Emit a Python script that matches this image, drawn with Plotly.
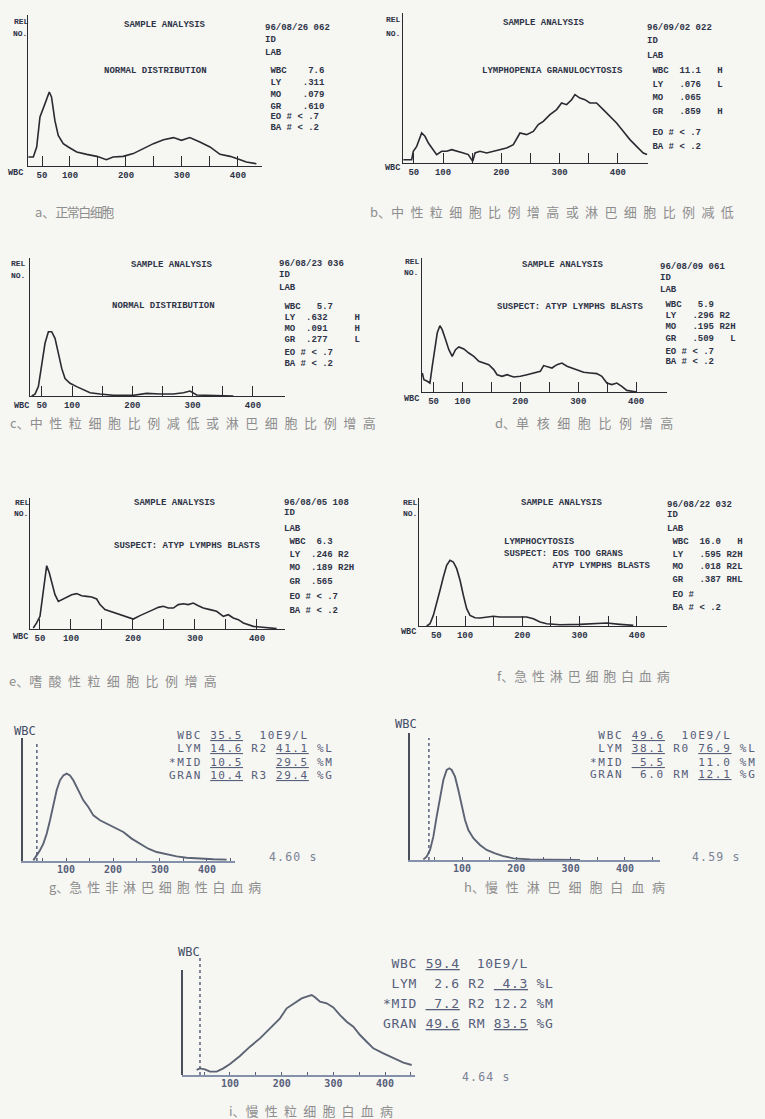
import plotly.graph_objects as go

W, H = 765, 1119

# ---------------- data: cell volume (fL) vs relative number ----------------
a_x = [25.6, 34.5, 40.5, 46.4, 55.4, 63.0, 67.0, 73.0, 79.0, 88.0, 97.0, 112, 130, 148, 165, 177, 195, 213,
       231, 249, 267, 285, 299, 314, 332, 350, 368, 386, 404, 415, 433]
a_y = [6.0, 6.0, 12.6, 32.5, 41.3, 49.0, 45.7, 30.2, 20.3, 14.8, 12.6, 9.3, 7.7, 6.4, 4.2, 6.0, 6.4, 8.2,
       11.5, 14.8, 17.4, 18.8, 17.0, 18.8, 15.9, 12.6, 7.7, 6.4, 4.2, 2.6, 1.5]

b_x = [32, 46.3, 49.1, 54.9, 63.4, 69.1, 74.9, 83.4, 89.1, 97.7, 106.3, 114.9, 126.3, 134.9, 143.4, 150.9,
       154.9, 163.4, 174.9, 186.3, 197.7, 209.1, 220.6, 232, 243.4, 254.9, 263.4, 272, 283.4, 294.9, 303.4,
       312, 320.6, 326.3, 334.9, 343.4, 352, 363.4, 374.9, 386.3, 397.7, 409.1, 420.6, 432, 443.4, 450]
b_y = [2.2, 2.2, 7.8, 11.1, 20, 17.8, 13.3, 8.9, 5.6, 7.8, 7.8, 8.9, 7.8, 6.7, 5.6, 1.1, 6.7, 7.8, 6.7, 7.8,
       8.9, 10, 12.2, 20, 18.9, 21.1, 25.6, 27.8, 32.2, 35.6, 40, 38.9, 42.2, 45.6, 43.3, 42.2, 40, 40, 35.6,
       31.1, 26.7, 21.1, 15.6, 11.1, 6.7, 5.6]

c_x = [33.1, 38.6, 44.2, 49.7, 55.2, 60.8, 66.3, 71.8, 77.3, 82.9, 88.4, 96.7, 107.7, 118.8, 129.9, 146.4,
       168.5, 201.7, 223.8, 245.9, 268, 284.6, 295.7, 306.7, 323.3, 367.5]
c_y = [0, 1.4, 6.8, 23.7, 38.2, 46.6, 46.6, 41.8, 30.9, 20, 12.6, 9.2, 6.8, 4.3, 2.4, 1.4, 0.5, 0.5, 1.9, 1.4,
       1.4, 2.4, 3.6, 0.7, 0.5, 0]

d_x = [30.5, 33.3, 39.1, 43.7, 47.7, 52.3, 56.3, 60.9, 64.9, 70.7, 76.4, 82.2, 87.9, 93.7, 102.3, 110.9,
       119.5, 128.2, 136.8, 145.4, 154, 159.8, 168.4, 177, 188.5, 200, 211.5, 223, 234.5, 240.2, 246, 254.6,
       263.2, 271.8, 280.5, 289.1, 297.7, 309.2, 320.7, 332.2, 340.8, 349.4, 358, 366.7, 375.3, 383.9, 401]
d_y = [14.2, 9.2, 8, 6.7, 19.2, 34.1, 44, 49.5, 46.5, 39.1, 31.6, 26.6, 31.6, 33.6, 32.1, 29.1, 26.6, 22.9,
       21.6, 20.4, 16.7, 12.9, 11.7, 12.9, 11.2, 11.7, 12.9, 14.2, 15.4, 19.7, 19.2, 17.9, 20.4, 21.6, 19.2,
       17.9, 16.7, 14.7, 14.2, 13.7, 11.7, 6.7, 5.5, 6.7, 4.2, 1.2, 0]

e_x = [39.2, 44.6, 50, 54.3, 58.1, 60.8, 65.1, 68.8, 74.2, 79.6, 84.9, 90.3, 95.7, 101.1, 109.1, 117.2,
       125.3, 133.3, 141.4, 146.8, 154.8, 162.9, 171, 179, 187.1, 195.2, 200.5, 211.3, 222, 232.8, 240.9,
       248.9, 257, 265.1, 273.1, 281.2, 289.2, 297.3, 305.4, 313.4, 324.2, 334.9, 345.7, 353.8, 361.8,
       369.9, 378, 386, 394.1, 404.8, 415.6, 431.7]
e_y = [0.8, 4.6, 9.7, 25.2, 42.7, 48.3, 42.7, 35.1, 26.2, 21.1, 22.4, 23.7, 24.9, 26.2, 27, 25.4, 24.9, 24.4,
       22.9, 18.6, 14.8, 13.5, 12.2, 10.9, 9.2, 8.4, 7.6, 10.2, 12.2, 14.8, 16.5, 17.3, 16, 16, 18.6, 19.3,
       18.6, 19.8, 17.8, 16, 14.8, 13.5, 9.7, 10.9, 8.4, 7.1, 4.6, 3.3, 2, 1.5, 0.8, 0.3]

f_x = [33.1, 38.9, 44.7, 50.6, 56.4, 62.2, 68, 73.8, 79.6, 85.5, 91.3, 97.1, 102.9, 108.7, 117.5, 126.2,
       137.8, 149.4, 161.1, 172.7, 184.4, 196, 207.6, 219.3, 230.9, 242.5, 265.8, 300.7, 324, 347.2, 370.5,
       393.8]
f_y = [0, 1.8, 8.3, 17.4, 27.9, 38.3, 47.4, 51.3, 50, 44.8, 35.7, 24, 13.5, 8.3, 6.5, 6.3, 7, 7.6, 7, 7, 7,
       6.5, 7, 5.7, 3.1, 1.8, 1, 1.3, 1.8, 2.3, 1.3, 0.5]

g_x = [30.5, 37.6, 44.7, 51.8, 58.9, 66, 73, 80.1, 87.2, 94.3, 101.4, 108.5, 115.6, 126.2, 136.9, 147.5,
       158.2, 172.3, 186.5, 204.3, 222, 239.7, 257.4, 275.2, 292.9, 314.2, 335.5, 356.7, 385.1, 413.5, 441.8]
g_y = [0.5, 4.6, 8.7, 14.1, 22.2, 33.1, 46.6, 57.5, 65.6, 69.6, 71, 69.6, 65.6, 57.5, 49.3, 43.9, 37.1, 33.1,
       30.4, 27.6, 23.6, 18.2, 14.1, 10, 7.3, 5.4, 3.8, 2.7, 1.9, 1.4, 1.1]

h_x = [28.8, 34.9, 41.1, 47.2, 53.3, 59.5, 65.6, 71.8, 76.7, 81, 87.1, 93.2, 99.4, 105.5, 111.7, 120.9,
       133.1, 145.4, 160.8, 176.1, 194.5, 225.2, 255.9, 317.3]
h_y = [0.5, 2.6, 7.9, 18.4, 34.1, 49.9, 63, 70.9, 72.2, 70.9, 65.6, 55.1, 43.3, 31.5, 23.6, 17.1, 11.8, 7.9,
       5.2, 3.1, 1.3, 0.5, 0.3, 0]

i_x = [35.5, 42, 51.6, 61.3, 74.2, 87.1, 100, 119.3, 138.7, 158, 177.4, 196.7, 209.6, 219.3, 228.9, 238.6,
       248.3, 258, 264.4, 274.1, 287, 299.9, 312.8, 325.7, 338.6, 351.5, 364.3, 377.2, 396.6, 415.9, 435.3,
       451.4]
i_y = [4.8, 6.3, 5.4, 3.2, 3.2, 6.3, 10.5, 18.1, 27, 34.9, 44.4, 54, 63.5, 66.7, 69.8, 73, 74.6, 76.2, 74,
       69.8, 68.3, 64.4, 57.1, 50.8, 46, 38.1, 31.7, 25.4, 20.6, 15.9, 11.7, 9.5]

# lower discriminator thresholds (fL) of the three newer analyser plots
g_thr, h_thr, i_thr = 38, 39, 42

# tick labels
pr_tickvals = [50, 100, 150, 200, 250, 300, 350, 400]
pr_ticktext = ["50", "100", "", "200", "", "300", "", "400"]
md_tickvals = [50, 100, 150, 200, 250, 300, 350, 400, 450]
md_ticktext = ["", "100", "", "200", "", "300", "", "400", ""]

# ---------------- texts ----------------
title_main = "SAMPLE ANALYSIS"
a_msg = ["NORMAL DISTRIBUTION"]
b_msg = ["LYMPHOPENIA GRANULOCYTOSIS"]
c_msg = ["NORMAL DISTRIBUTION"]
d_msg = ["SUSPECT: ATYP LYMPHS BLASTS"]
e_msg = ["SUSPECT: ATYP LYMPHS BLASTS"]
f_msg = ["LYMPHOCYTOSIS", "SUSPECT: EOS TOO GRANS", "         ATYP LYMPHS BLASTS"]

a_side = ["96/08/26 062", "ID", "LAB", " WBC    7.6", " LY    .311", " MO    .079", " GR    .610", " EO # < .7", " BA # < .2"]
b_side = ["96/09/02 022", "ID", "LAB", " WBC  11.1   H", " LY   .076   L", " MO   .065", " GR   .859   H", " EO # < .7", " BA # < .2"]
c_side = ["96/08/23 036", "ID", "LAB", " WBC   5.7", " LY  .632     H", " MO  .091     H", " GR  .277     L", " EO # < .7", " BA # < .2"]
d_side = ["96/08/09 061", "ID", "LAB", " WBC   5.9", " LY   .296 R2", " MO   .195 R2H", " GR   .509   L", " EO # < .7", " BA # < .2"]
e_side = ["96/08/05 108", "ID", "LAB", " WBC  6.3", " LY  .246 R2", " MO  .189 R2H", " GR  .565", " EO # < .7", " BA # < .2"]
f_side = ["96/08/22 032", "ID", "LAB", " WBC  16.0   H", " LY   .595 R2H", " MO   .018 R2L", " GR   .387 RHL", " EO #", " BA # < .2"]

g_side = [" WBC [35.5]  10E9/L", " LYM [14.6] R2 [41.1] %L", "*MID [10.5]    [29.5] %M", "GRAN [10.4] R3 [29.4] %G"]
h_side = [" WBC [49.6]  10E9/L", " LYM [38.1] R0 [76.9] %L", "*MID [ 5.5]    11.0 %M", "GRAN  6.0 RM [12.1] %G"]
i_side = [" WBC [59.4]  10E9/L", " LYM  2.6 R2 [ 4.3] %L", "*MID [ 7.2] R2 12.2 %M", "GRAN [49.6] RM [83.5] %G"]
g_time, h_time, i_time = "4.60 s", "4.59 s", "4.64 s"

captions = [("a、", "正常白细胞"),
            ("b、", "中性粒细胞比例增高或淋巴细胞比例减低"),
            ("c、", "中性粒细胞比例减低或淋巴细胞比例增高"),
            ("d、", "单核细胞比例增高"),
            ("e、", "嗜酸性粒细胞比例增高"),
            ("f、", "急性淋巴细胞白血病"),
            ("g、", "急性非淋巴细胞性白血病"),
            ("h、", "慢性淋巴细胞白血病"),
            ("i、", "慢性粒细胞白血病")]

# ---------------- styling / geometry ----------------
BG = "#f6f6f3"
PR_INK = "#2e3447"
PR_LINE = "#2a2b30"
MD_INK = "#56607a"
MD_LINE = "#5c6373"
CAP = "#8e8e8e"
PR_FONT = "Liberation Mono"
MD_FONT = "DejaVu Sans Mono"
CJK = "Noto Sans CJK SC"

# panel: left px, right px, top px, baseline px, x range, y max
geo = {
    "a": (28, 262, 15, 166, (25, 443), 100),
    "b": (403, 648, 13, 163, (31.4, 451.6), 100),
    "c": (30, 285, 258, 396, (30.3, 453.2), 100),
    "d": (422, 667, 258, 392, (30, 453.4), 100),
    "e": (30, 285, 498, 629, (33.9, 445.2), 100),
    "f": (419, 667, 498, 626, (19.7, 452.5), 100),
    "g": (23, 235, 738, 861, (8.5, 459.6), 100),
    "h": (410, 660, 733, 860, (4.2, 464.6), 100),
    "i": (182, 415, 953, 1075, (7.2, 457.8), 116.2),
}
series = {"a": (a_x, a_y), "b": (b_x, b_y), "c": (c_x, c_y), "d": (d_x, d_y), "e": (e_x, e_y),
          "f": (f_x, f_y), "g": (g_x, g_y), "h": (h_x, h_y), "i": (i_x, i_y)}

pr_pos = {
    "a": dict(rel=(21, 21), no=(20, 33), title=(165, 25), msg=(155, [71], "center"), side=(263, [28, 40, 53, 71, 83, 95, 107, 117, 128]), wbc=(16, 173), lines=a_side, m=a_msg),
    "b": dict(rel=(394, 19), no=(393, 33), title=(544, 23), msg=(552, [71], "center"), side=(645, [28, 41, 56, 71, 85, 98, 112, 133, 147]), wbc=(393, 168), lines=b_side, m=b_msg),
    "c": dict(rel=(18, 263), no=(18, 275), title=(172, 265), msg=(163, [306], "center"), side=(277, [264, 275, 288, 307, 318, 329, 340, 353, 364]), wbc=(21, 406), lines=c_side, m=c_msg),
    "d": dict(rel=(412, 262), no=(411, 272), title=(563, 265), msg=(570, [307], "center"), side=(658, [267, 278, 290, 305, 316, 327, 339, 352, 362]), wbc=(411, 399), lines=d_side, m=d_msg),
    "e": dict(rel=(22, 503), no=(21, 513), title=(175, 503), msg=(187, [546], "center"), side=(282, [503, 513, 529, 542, 555, 568, 582, 597, 611]), wbc=(20, 637), lines=e_side, m=e_msg),
    "f": dict(rel=(410, 502), no=(410, 513), title=(562, 503), msg=(502, [542, 554, 566], "left"), side=(665, [505, 515, 529, 542, 555, 567, 580, 595, 608]), wbc=(408, 632), lines=f_side, m=f_msg),
}
md_pos = {
    "g": dict(wbc=(25, 731), side=(168, [735, 748, 762, 775]), size=11, ls=1.6, time=(267, 857), lines=g_side, t=g_time, thr=g_thr, top=97),
    "h": dict(wbc=(406, 724), side=(589, [735, 748, 762, 774]), size=11, ls=1.7, time=(690, 857), lines=h_side, t=h_time, thr=h_thr, top=96),
    "i": dict(wbc=(189, 952), side=(382, [963, 983, 1003, 1023]), size=13, ls=0.7, time=(460, 1077), lines=i_side, t=i_time, thr=i_thr, top=114),
}
cap_pos = [(33, 212, -1.5), (368, 212, 6.4), (8, 422, 6.6), (493, 422, 7.6), (7, 680, 6.4),
           (495, 675, 4.8), (47, 886, 4.9), (462, 886, 7.9), (227, 1110, 6.2)]

ann = []
shapes = []


def nb(s):
    return s.replace(" ", "\u00a0")


def note(text, x, y, size, color, family, xanchor="left", weight="normal", pad=1):
    ann.append(dict(text=text, x=x / W, y=1 - y / H, xref="paper", yref="paper", xanchor=xanchor,
                    yanchor="middle", showarrow=False, borderpad=pad,
                    font=dict(size=size, color=color, family=family, weight=weight)))


def underline_markup(s):
    s = nb(s)
    return s.replace("[", '<span style="text-decoration:underline">').replace("]", "</span>")


fig = go.Figure()
layout = dict(width=W, height=H, margin=dict(l=0, r=0, t=0, b=0), paper_bgcolor=BG,
              plot_bgcolor="rgba(0,0,0,0)", showlegend=False)

for k, key in enumerate("abcdefghi", start=1):
    L, R, T, B, xr, ymax = geo[key]
    sfx = "" if k == 1 else str(k)
    modern = key in "ghi"
    xs, ys = series[key]
    fig.add_trace(go.Scatter(x=xs, y=ys, mode="lines",
                             line=dict(color=MD_LINE if modern else PR_LINE, width=1.9 if modern else 1.6),
                             xaxis="x" + sfx, yaxis="y" + sfx, hoverinfo="skip"))
    layout["xaxis" + sfx] = dict(
        domain=[L / W, R / W], range=list(xr), anchor="y" + sfx,
        showline=True, linecolor="#8590aa" if modern else PR_LINE, linewidth=2 if modern else 1.4,
        ticks="inside", ticklen=3 if modern else 10, tickwidth=1.3, tickcolor=MD_INK if modern else PR_LINE,
        tickmode="array", tickvals=md_tickvals if modern else pr_tickvals,
        ticktext=md_ticktext if modern else pr_ticktext,
        tickfont=dict(family=MD_FONT if modern else PR_FONT, size=10 if modern else 9,
                      color=MD_INK if modern else PR_INK, weight="bold"),
        ticklabelstandoff=-2 if modern else 0,
        showgrid=False, zeroline=False, fixedrange=True)
    layout["yaxis" + sfx] = dict(
        domain=[1 - B / H, 1 - T / H], range=[0, ymax], anchor="x" + sfx,
        showline=(key != "i"), linecolor="#4a4f5c" if modern else PR_LINE, linewidth=2 if modern else 1.4,
        showticklabels=False, ticks="", showgrid=False, zeroline=False, fixedrange=True)

    if modern:
        p = md_pos[key]
        shapes.append(dict(type="line", xref="x" + sfx, yref="y" + sfx, x0=p["thr"], x1=p["thr"],
                           y0=0, y1=p["top"], line=dict(color=MD_INK, width=1.5, dash="dot")))
        note("WBC", p["wbc"][0], p["wbc"][1], 12, "#434c63", MD_FONT, "center")
        sx, sy = p["side"]
        for line, yy in zip(p["lines"], sy):
            txt = f'<span style="letter-spacing:{p["ls"]}px">{underline_markup(line)}</span>'
            note(txt, sx, yy, p["size"], MD_INK, MD_FONT, pad=0)
        note(f'<span style="letter-spacing:1.2px">{nb(p["t"])}</span>', p["time"][0], p["time"][1],
             11.5, "#7a8296", MD_FONT)
    else:
        p = pr_pos[key]
        note("REL", p["rel"][0], p["rel"][1], 8, PR_INK, PR_FONT, "center", "bold")
        note("NO.", p["no"][0], p["no"][1], 8, PR_INK, PR_FONT, "center", "bold")
        note(title_main, p["title"][0], p["title"][1], 9, PR_INK, PR_FONT, "center", "bold")
        mx, mys, manch = p["msg"]
        for line, yy in zip(p["m"], mys):
            note(nb(line), mx, yy, 9, PR_INK, PR_FONT, manch, "bold")
        sx, sy = p["side"]
        for line, yy in zip(p["lines"], sy):
            note(nb(line), sx, yy, 9, PR_INK, PR_FONT, "left", "bold")
        note("WBC", p["wbc"][0], p["wbc"][1], 8.5, PR_INK, PR_FONT, "center", "bold")

# solid y axis of panel i (its dotted threshold reaches above the axis top)
shapes.append(dict(type="line", xref="x9 domain", yref="y9", x0=0, x1=0, y0=0, y1=100,
                   line=dict(color="#4a4f5c", width=2)))

for (pre, body), (cx, cy, ls) in zip(captions, cap_pos):
    note(f'{pre}<span style="letter-spacing:{ls}px">{body}</span>', cx, cy, 13, CAP, CJK)

layout["annotations"] = ann
layout["shapes"] = shapes
fig.update_layout(**layout)

fig.write_html("out.html", config={"displayModeBar": False},
               post_script="document.body.style.margin='0';document.body.style.overflow='hidden';")
